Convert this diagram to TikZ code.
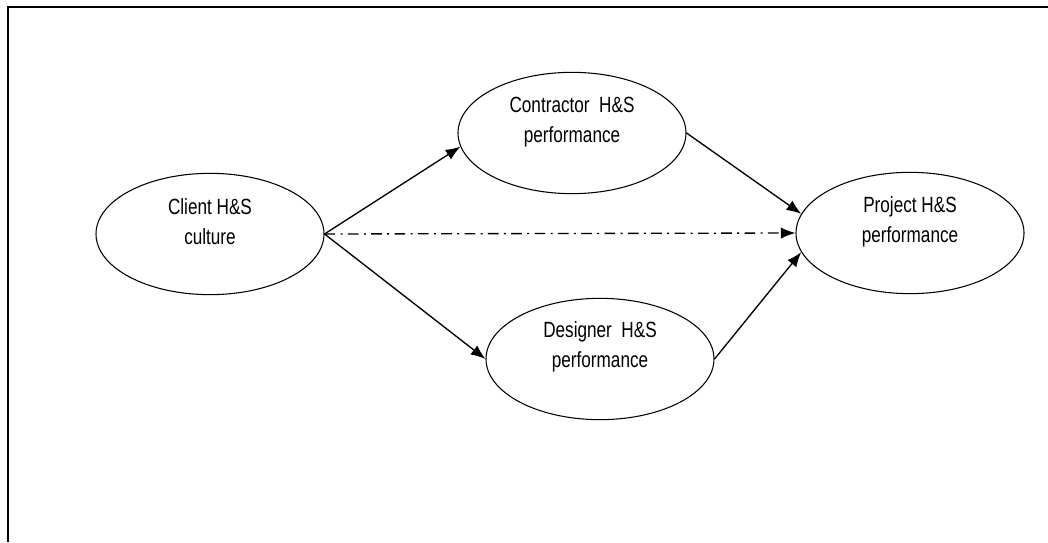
\documentclass[tikz,border=0pt]{standalone}
\usepackage{fontspec}
\newfontfamily\diagfont[FakeStretch=0.78]{Liberation Sans}
\usetikzlibrary{shapes.geometric,arrows.meta}

\tikzset{
  oval/.style={draw, ellipse, line width=.8pt, minimum width=171pt, minimum height=91pt, inner sep=0pt},
  ovaltext/.style={align=center, font=\diagfont\fontsize{16.5}{22.5}\selectfont},
  link/.style={line width=1pt, -{Latex[length=11pt,width=8.5pt]}},
  direct/.style={link, dash pattern=on 8pt off 4pt on 1.5pt off 4pt}
}

\begin{document}
\begin{tikzpicture}[x=.75pt, y=-.75pt]
	\useasboundingbox (0,0) rectangle (1048,542);
	% frame (top and left edge only)
	\draw[line width=1.5pt] (7.5,542) -- (7.5,7.5) -- (1048,7.5);
	% constructs
	\node[oval] (client) at (210,234) {};
	\node[oval] (contractor) at (572,133) {};
	\node[oval] (designer) at (600,359) {};
	\node[oval] (project) at (910,233) {};
	\node[ovaltext] (client-t) at (210,222) {Client H\&S\\culture};
	\node[ovaltext] (contractor-t) at (572,122) {Contractor\ \ H\&S\\performance};
	\node[ovaltext] (designer-t) at (600,347) {Designer\ \ H\&S\\performance};
	\node[ovaltext] (project-t) at (910,222) {Project H\&S\\performance};
	% paths
	\draw[link] (client.east) -- (contractor.187);
	\draw[link] (client.east) -- (designer.west);
	\draw[direct] (client.east) -- (project.west);
	\draw[link] (contractor.east) -- (project.170);
	\draw[link] (designer.east) -- (project.190);
\end{tikzpicture}
\end{document}
